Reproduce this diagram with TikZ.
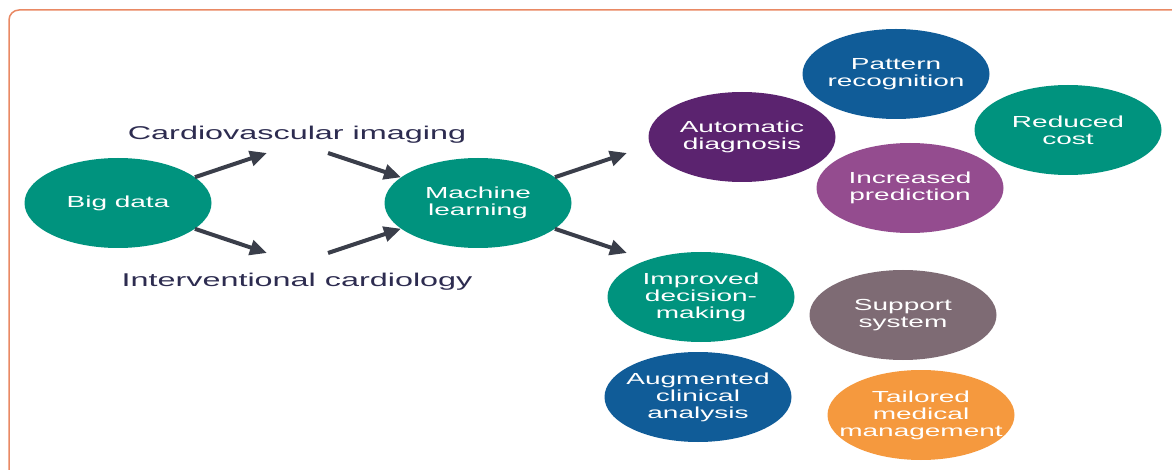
\documentclass[tikz,border=0pt]{standalone}
\usepackage{fontspec}
\setmainfont[FakeStretch=1.75]{Liberation Sans}
\usetikzlibrary{shapes.geometric,arrows.meta}

\definecolor{teal}{RGB}{0,147,126}
\definecolor{deepblue}{RGB}{16,92,152}
\definecolor{plum}{RGB}{91,35,111}
\definecolor{orchid}{RGB}{148,76,143}
\definecolor{taupe}{RGB}{126,107,116}
\definecolor{tangerine}{RGB}{245,153,62}
\definecolor{arrowgray}{RGB}{58,62,74}
\definecolor{inkblue}{RGB}{45,44,80}
\definecolor{framecol}{RGB}{233,137,100}

\tikzset{
  bubble/.style={ellipse, minimum width=187pt, minimum height=90pt,
    inner xsep=-40pt, inner ysep=-20pt,
    text=white, align=center, font=\fontsize{16}{17}\selectfont},
  arr/.style={line width=4pt, draw=arrowgray, -{Triangle[length=17pt,width=15pt]}},
  lbltext/.style={text=inkblue, font=\fontsize{18.5}{20}\selectfont}
}

\begin{document}
\begin{tikzpicture}[x=1pt,y=-1pt]

\useasboundingbox (0,0) rectangle (1172,470);
\clip (0,0) rectangle (1172,470);
%外框:只露出左边和上边
\draw[framecol, line width=1.5pt, rounded corners=10pt] (9,10) rectangle (1190,490);

%左边两个大圆
\node[bubble, fill=teal] (big) at (118,203) {Big data};
\node[bubble, fill=teal] (ml) at (478,203) {Machine\\learning};

%中间两行文字
\node[lbltext] (imaging) at (297,135) {Cardiovascular imaging};
\node[lbltext] (interv) at (297,282) {Interventional cardiology};

%箭头的空端
\coordinate (bigup) at (267,153);
\coordinate (bigdown) at (267,253);
\coordinate (mlupin) at (328,153);
\coordinate (mldownin) at (328,253);
\coordinate (mlupout) at (627,153);
\coordinate (mldownout) at (627,253);

%箭头
\draw[arr] (big) -- (bigup);
\draw[arr] (big) -- (bigdown);
\draw[arr] (mlupin) -- (ml);
\draw[arr] (mldownin) -- (ml);
\draw[arr] (ml) -- (mlupout);
\draw[arr] (ml) -- (mldownout);

%右上四个圆
\node[bubble, fill=deepblue] (pattern) at (896,74) {Pattern\\recognition};
\node[bubble, fill=plum] (autodiag) at (742,137) {Automatic\\diagnosis};
\node[bubble, fill=teal] (cost) at (1068,130) {Reduced\\cost};
\node[bubble, fill=orchid] (predict) at (910,188) {Increased\\prediction};

%右下四个圆
\node[bubble, fill=teal] (decision) at (701,297) {Improved\\decision-\\making};
\node[bubble, fill=taupe] (support) at (903,315) {Support\\system};
\node[bubble, fill=deepblue] (clinical) at (698,397) {Augmented\\clinical\\analysis};
\node[bubble, fill=tangerine] (tailored) at (921,415) {Tailored\\medical\\management};

\end{tikzpicture}
\end{document}
